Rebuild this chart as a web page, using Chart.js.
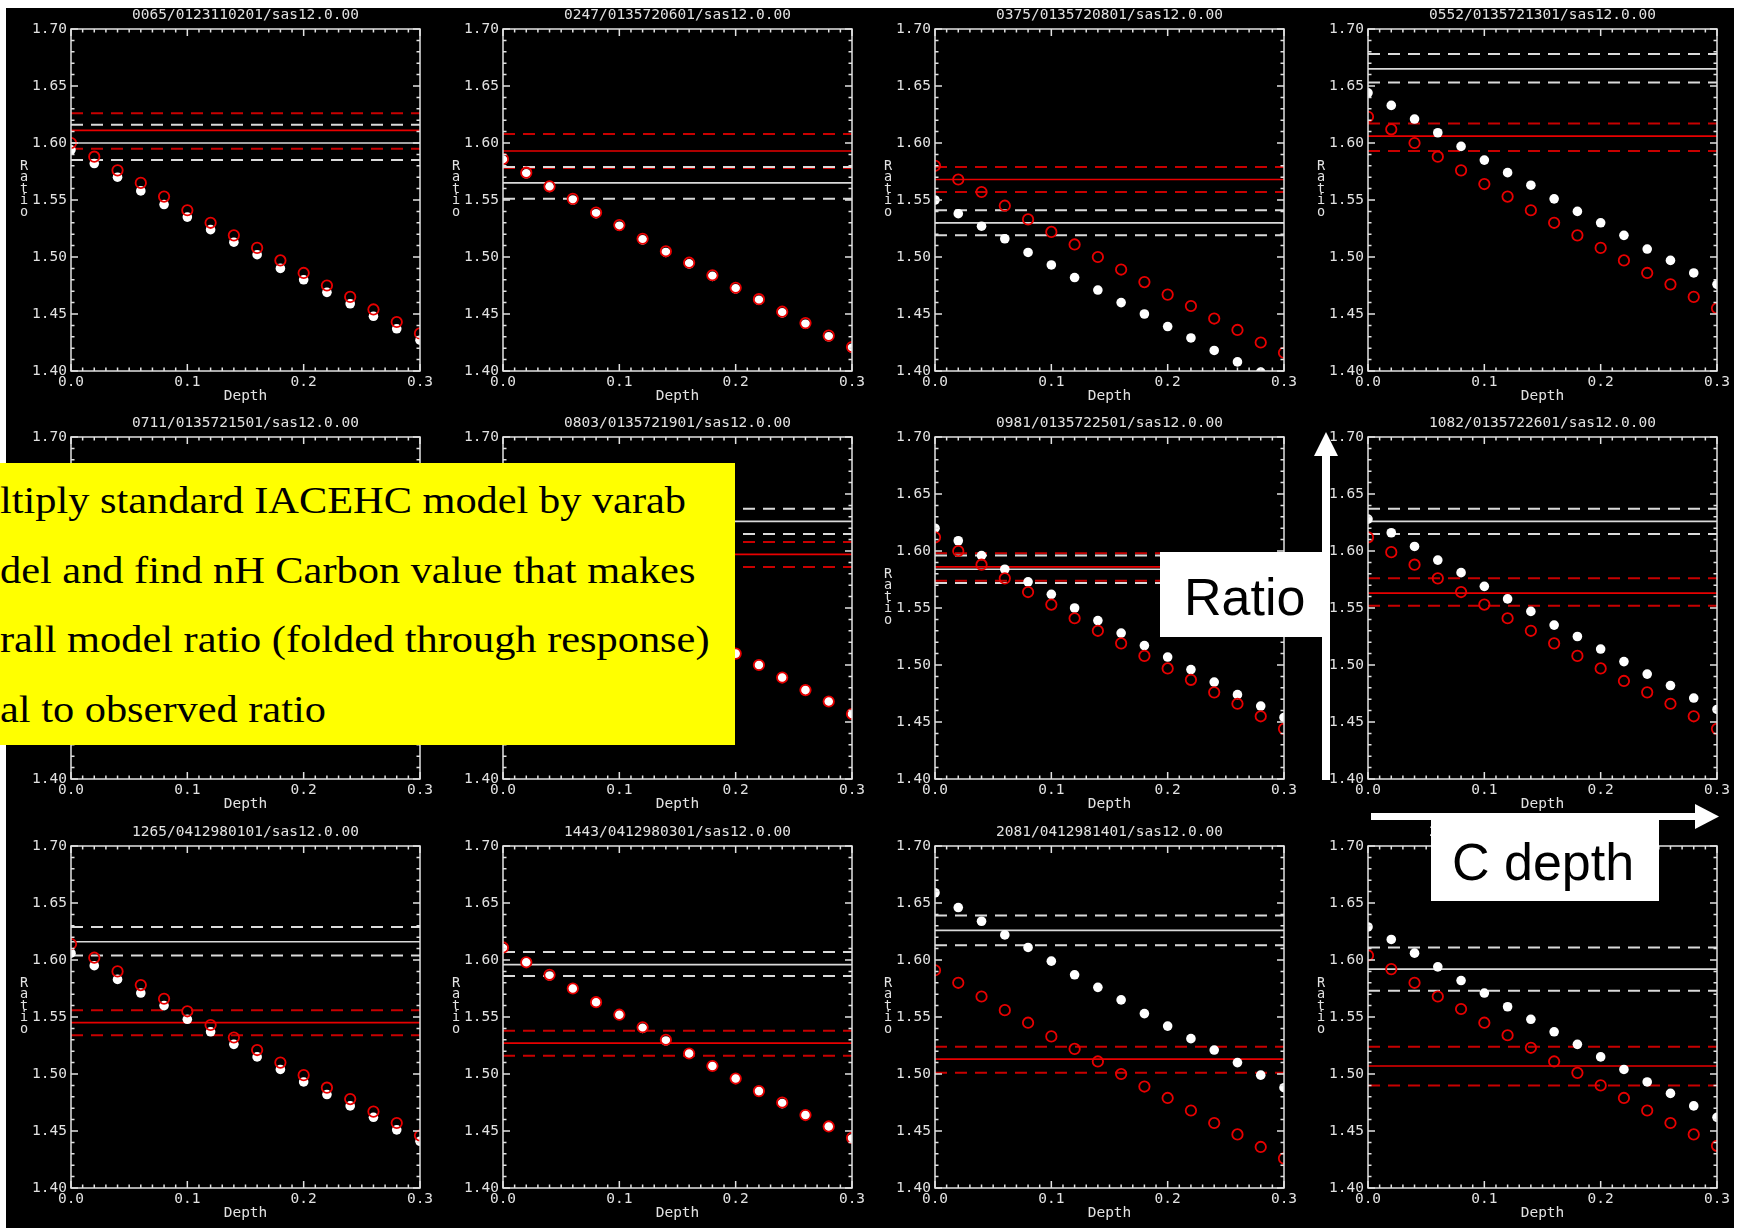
<!DOCTYPE html>
<html>
<head>
<meta charset="utf-8">
<title>Ratio vs carbon depth</title>
<script src="https://cdn.jsdelivr.net/npm/chart.js@4.4.1/dist/chart.umd.min.js"></script>
<style>
html, body { margin: 0; padding: 0; width: 1743px; height: 1229px; overflow: hidden; background: #fff; }
#sheet { position: absolute; left: 6px; top: 8px; width: 1728px; height: 1220px; background: #000; }
canvas.panel { position: absolute; }
#note { position: absolute; left: 0; top: 463px; width: 735px; height: 282px; background: #ffff00; overflow: hidden; }
#note div { position: absolute; left: 0; white-space: nowrap; font: 38px/38px "Liberation Serif", "Times New Roman", serif; color: #000; transform: scaleX(1.115); transform-origin: 0 0; }
.tag { position: absolute; background: #fff; overflow: hidden; }
.tag span { position: absolute; white-space: nowrap; font: 52px/52px "Liberation Sans", Arial, sans-serif; color: #000; }
svg.arrows { position: absolute; left: 0; top: 0; }
</style>
</head>
<body>
<div id="sheet"></div>

<script>
/* Depth grid shared by every panel */
const depths = [0.00, 0.02, 0.04, 0.06, 0.08, 0.10, 0.12, 0.14, 0.16, 0.18, 0.20, 0.22, 0.24, 0.26, 0.28, 0.30];
const xTicks = [0.0, 0.1, 0.2, 0.3];
const yTicks = [1.40, 1.45, 1.50, 1.55, 1.60, 1.65, 1.70];

const titles = [
    "0065/0123110201/sas12.0.00", "0247/0135720601/sas12.0.00", "0375/0135720801/sas12.0.00", "0552/0135721301/sas12.0.00",
    "0711/0135721501/sas12.0.00", "0803/0135721901/sas12.0.00", "0981/0135722501/sas12.0.00", "1082/0135722601/sas12.0.00",
    "1265/0412980101/sas12.0.00", "1443/0412980301/sas12.0.00", "2081/0412981401/sas12.0.00", "2102/0412981501/sas12.0.00"
];

/* Observed ratio (white) and model ratio (red) with their error band */
const obsMid = [1.600, 1.565, 1.530, 1.665, 1.600, 1.626, 1.584, 1.626, 1.616, 1.596, 1.626, 1.592];
const obsLo  = [1.585, 1.551, 1.519, 1.653, 1.588, 1.615, 1.572, 1.615, 1.604, 1.586, 1.613, 1.573];
const obsHi  = [1.616, 1.579, 1.541, 1.678, 1.612, 1.637, 1.596, 1.637, 1.629, 1.607, 1.639, 1.611];
const modMid = [1.611, 1.593, 1.568, 1.606, 1.598, 1.597, 1.586, 1.563, 1.545, 1.527, 1.513, 1.507];
const modLo  = [1.595, 1.578, 1.557, 1.593, 1.586, 1.586, 1.574, 1.552, 1.534, 1.516, 1.501, 1.490];
const modHi  = [1.626, 1.608, 1.579, 1.617, 1.610, 1.608, 1.598, 1.576, 1.556, 1.538, 1.524, 1.524];

/* Ratio per depth: nominal model (white dots) and scaled model (red rings) */
const nominal_0065 = [1.594, 1.582, 1.570, 1.558, 1.546, 1.535, 1.524, 1.513, 1.502, 1.490, 1.480, 1.469, 1.459, 1.448, 1.437, 1.427];
const scaled_0065  = [1.600, 1.588, 1.576, 1.565, 1.553, 1.541, 1.530, 1.519, 1.508, 1.497, 1.486, 1.475, 1.465, 1.454, 1.443, 1.433];
const nominal_0247 = [1.585, 1.573, 1.561, 1.550, 1.538, 1.527, 1.515, 1.504, 1.494, 1.483, 1.472, 1.462, 1.451, 1.441, 1.430, 1.420];
const scaled_0247  = [1.586, 1.574, 1.562, 1.551, 1.539, 1.528, 1.516, 1.505, 1.495, 1.484, 1.473, 1.463, 1.452, 1.442, 1.431, 1.421];
const nominal_0375 = [1.550, 1.538, 1.527, 1.516, 1.504, 1.493, 1.482, 1.471, 1.460, 1.450, 1.439, 1.429, 1.418, 1.408, 1.399, 1.389];
const scaled_0375  = [1.580, 1.568, 1.557, 1.545, 1.533, 1.522, 1.511, 1.500, 1.489, 1.478, 1.467, 1.457, 1.446, 1.436, 1.425, 1.416];
const nominal_0552 = [1.644, 1.633, 1.621, 1.609, 1.597, 1.585, 1.574, 1.563, 1.551, 1.540, 1.530, 1.519, 1.507, 1.497, 1.486, 1.476];
const scaled_0552  = [1.623, 1.612, 1.600, 1.588, 1.576, 1.564, 1.553, 1.541, 1.530, 1.519, 1.508, 1.497, 1.486, 1.476, 1.465, 1.455];
const nominal_0711 = [1.606, 1.594, 1.582, 1.571, 1.559, 1.548, 1.537, 1.526, 1.515, 1.504, 1.493, 1.483, 1.472, 1.462, 1.452, 1.442];
const scaled_0711  = [1.604, 1.592, 1.580, 1.569, 1.557, 1.546, 1.535, 1.524, 1.513, 1.502, 1.492, 1.481, 1.471, 1.461, 1.450, 1.440];
const nominal_0803 = [1.623, 1.611, 1.599, 1.587, 1.576, 1.565, 1.554, 1.543, 1.532, 1.521, 1.510, 1.500, 1.489, 1.478, 1.468, 1.457];
const scaled_0803  = [1.623, 1.611, 1.599, 1.587, 1.576, 1.565, 1.554, 1.543, 1.532, 1.521, 1.510, 1.500, 1.489, 1.478, 1.468, 1.457];
const nominal_0981 = [1.620, 1.609, 1.596, 1.584, 1.573, 1.562, 1.550, 1.539, 1.528, 1.517, 1.507, 1.496, 1.485, 1.474, 1.464, 1.454];
const scaled_0981  = [1.612, 1.600, 1.588, 1.576, 1.564, 1.553, 1.541, 1.530, 1.519, 1.508, 1.497, 1.487, 1.476, 1.466, 1.455, 1.444];
const nominal_1082 = [1.628, 1.616, 1.604, 1.592, 1.581, 1.569, 1.558, 1.547, 1.535, 1.525, 1.514, 1.503, 1.492, 1.482, 1.471, 1.461];
const scaled_1082  = [1.612, 1.599, 1.588, 1.576, 1.564, 1.553, 1.541, 1.530, 1.519, 1.508, 1.497, 1.486, 1.476, 1.466, 1.455, 1.444];
const nominal_1265 = [1.606, 1.595, 1.583, 1.571, 1.560, 1.548, 1.537, 1.526, 1.515, 1.504, 1.493, 1.482, 1.472, 1.462, 1.451, 1.441];
const scaled_1265  = [1.614, 1.602, 1.590, 1.578, 1.566, 1.555, 1.543, 1.532, 1.521, 1.510, 1.499, 1.488, 1.478, 1.467, 1.457, 1.446];
const nominal_1443 = [1.610, 1.598, 1.586, 1.575, 1.563, 1.552, 1.540, 1.529, 1.518, 1.507, 1.496, 1.485, 1.474, 1.464, 1.454, 1.443];
const scaled_1443  = [1.611, 1.598, 1.587, 1.575, 1.563, 1.552, 1.541, 1.530, 1.518, 1.507, 1.496, 1.485, 1.475, 1.464, 1.454, 1.444];
const nominal_2081 = [1.659, 1.646, 1.634, 1.622, 1.611, 1.599, 1.587, 1.576, 1.565, 1.553, 1.542, 1.531, 1.521, 1.510, 1.499, 1.488];
const scaled_2081  = [1.591, 1.580, 1.568, 1.556, 1.545, 1.533, 1.522, 1.511, 1.500, 1.489, 1.479, 1.468, 1.457, 1.447, 1.436, 1.426];
const nominal_2102 = [1.629, 1.618, 1.606, 1.594, 1.582, 1.571, 1.559, 1.548, 1.537, 1.526, 1.515, 1.504, 1.493, 1.483, 1.472, 1.462];
const scaled_2102  = [1.604, 1.592, 1.580, 1.568, 1.557, 1.545, 1.534, 1.523, 1.511, 1.501, 1.490, 1.479, 1.468, 1.457, 1.447, 1.437];

const nominal = [nominal_0065, nominal_0247, nominal_0375, nominal_0552, nominal_0711, nominal_0803,
                 nominal_0981, nominal_1082, nominal_1265, nominal_1443, nominal_2081, nominal_2102];
const scaled = [scaled_0065, scaled_0247, scaled_0375, scaled_0552, scaled_0711, scaled_0803,
                scaled_0981, scaled_1082, scaled_1265, scaled_1443, scaled_2081, scaled_2102];

const FG = "#e2e2e2";
const WHITE_LINE = "#dadada";
const RED = "#e80000";
const RED_DASH = "#c80000";
const MONO = '"DejaVu Sans Mono", "Liberation Mono", monospace';

/* Plot box origin of every panel on the page */
const colLeft = [71, 503, 935, 1368];
const rowTop = [29, 437, 846];
const PAD_L = 66, PAD_T = 29, CW = 432, CH = 408;

/* IDL style frame: box, inward ticks on all four sides, title and stacked y label */
const idlFrame = {
    id: "idlFrame",
    afterDatasetsDraw(chart, args, opts) {
        const {ctx, chartArea: a, scales: {x, y}} = chart;
        ctx.save();
        ctx.strokeStyle = FG;
        ctx.lineWidth = 1.5;
        ctx.strokeRect(a.left, a.top, a.right - a.left, a.bottom - a.top);
        ctx.beginPath();
        for (let i = 0; i <= 30; i++) {
            const px = x.getPixelForValue(i / 100);
            const xl = i % 10 === 0 ? 7 : 3.5;
            ctx.moveTo(px, a.bottom); ctx.lineTo(px, a.bottom - xl);
            ctx.moveTo(px, a.top); ctx.lineTo(px, a.top + xl);
            const py = y.getPixelForValue(1.4 + i / 100);
            const yl = i % 5 === 0 ? 7 : 3.5;
            ctx.moveTo(a.left, py); ctx.lineTo(a.left + yl, py);
            ctx.moveTo(a.right, py); ctx.lineTo(a.right - yl, py);
        }
        ctx.stroke();

        ctx.fillStyle = FG;
        ctx.textAlign = "center";
        ctx.textBaseline = "middle";
        ctx.font = "14.5px " + MONO;
        const cx = (a.left + a.right) / 2;
        ctx.fillText(opts.title, cx, a.top - 14);
        ctx.fillText("Depth", cx, a.bottom + 25);
        ctx.font = "13.5px " + MONO;
        "Ratio".split("").forEach((ch, k) => {
            ctx.fillText(ch, a.left - 47, a.top + 137 + k * 11.5);
        });
        ctx.restore();
    }
};

function hline(value, color, dashed) {
    return {
        type: "line",
        data: [{x: depths[0], y: value}, {x: depths[depths.length - 1], y: value}],
        borderColor: color,
        borderWidth: dashed ? 2 : 1.7,
        borderDash: dashed ? [12, 8] : [],
        pointRadius: 0,
        order: 3,
        clip: 0,
    };
}

function points(values, ring) {
    return {
        type: "scatter",
        data: depths.map((d, i) => ({x: d, y: values[i]})),
        pointRadius: ring ? 5.2 : 4.8,
        pointBackgroundColor: ring ? "rgba(0,0,0,0)" : "#ffffff",
        pointBorderColor: ring ? RED : "#ffffff",
        pointBorderWidth: ring ? 1.8 : 0,
        order: ring ? 1 : 2,
        clip: 0,
    };
}

function buildPanel(n) {
    const canvas = document.createElement("canvas");
    canvas.className = "panel";
    canvas.width = CW;
    canvas.height = CH;
    canvas.style.left = (colLeft[n % 4] - PAD_L) + "px";
    canvas.style.top = (rowTop[Math.floor(n / 4)] - PAD_T) + "px";
    document.body.appendChild(canvas);

    new Chart(canvas, {
        type: "scatter",
        data: {
            datasets: [
                hline(obsHi[n], WHITE_LINE, true),
                hline(obsMid[n], WHITE_LINE, false),
                hline(obsLo[n], WHITE_LINE, true),
                hline(modHi[n], RED_DASH, true),
                hline(modMid[n], RED, false),
                hline(modLo[n], RED_DASH, true),
                points(nominal[n], false),
                points(scaled[n], true),
            ]
        },
        options: {
            responsive: false,
            animation: false,
            events: [],
            layout: {padding: {left: 0, top: PAD_T, right: CW - PAD_L - 349, bottom: 0}},
            plugins: {legend: {display: false}, tooltip: {enabled: false}, idlFrame: {title: titles[n]}},
            scales: {
                x: {
                    type: "linear", min: xTicks[0], max: xTicks[xTicks.length - 1],
                    afterFit: (s) => { s.height = CH - PAD_T - 342; },
                    afterBuildTicks: (s) => { s.ticks = xTicks.map((v) => ({value: v})); },
                    grid: {display: false, drawTicks: false},
                    border: {display: false},
                    ticks: {color: FG, padding: 3, maxRotation: 0, font: {family: MONO, size: 14.5},
                            callback: (v) => Number(v).toFixed(1)},
                },
                y: {
                    type: "linear", min: yTicks[0], max: yTicks[yTicks.length - 1],
                    afterFit: (s) => { s.width = PAD_L; },
                    afterBuildTicks: (s) => { s.ticks = yTicks.map((v) => ({value: v})); },
                    grid: {display: false, drawTicks: false},
                    border: {display: false},
                    ticks: {color: FG, padding: 4, font: {family: MONO, size: 14.5},
                            callback: (v) => Number(v).toFixed(2)},
                },
            },
        },
        plugins: [idlFrame],
    });
}

for (let n = 0; n < titles.length; n++) {
    buildPanel(n);
}
</script>

<div id="note">
  <div style="top:18px">ltiply standard IACEHC model by varab</div>
  <div style="top:88px">del and find nH Carbon value that makes</div>
  <div style="top:157px">rall model ratio (folded through response)</div>
  <div style="top:227px">al to observed ratio</div>
</div>

<div class="tag" style="left:1160px; top:552px; width:166px; height:85px;"><span style="left:24px; top:19px;">Ratio</span></div>
<div class="tag" style="left:1431px; top:820px; width:228px; height:81px;"><span style="left:21px; top:16px;">C depth</span></div>

<svg class="arrows" width="1743" height="1229">
  <rect x="1322" y="452" width="8" height="328" fill="#fff"/>
  <polygon points="1326,432 1314,456 1338,456" fill="#fff"/>
  <rect x="1371" y="813" width="326" height="7" fill="#fff"/>
  <polygon points="1719,816.5 1695,804 1695,829" fill="#fff"/>
</svg>
</body>
</html>
